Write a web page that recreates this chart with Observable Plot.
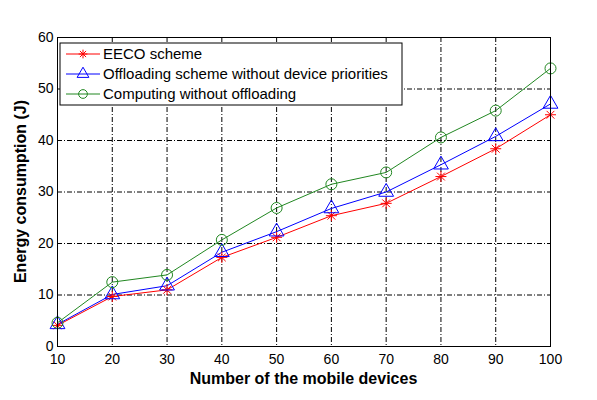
<!DOCTYPE html>
<html>
<head>
<meta charset="utf-8">
<script src="https://cdn.jsdelivr.net/npm/d3@7"></script>
<script src="https://cdn.jsdelivr.net/npm/@observablehq/plot@0.6"></script>
<style>
  body { margin: 0; background: #fff; }
  #chart svg { display: block; }
</style>
</head>
<body>
<div id="chart"></div>
<script>
// values
const devices = [10, 20, 30, 40, 50, 60, 70, 80, 90, 100];
const eeco = [4.1, 9.7, 11.0, 17.3, 21.2, 25.4, 27.8, 33.0, 38.4, 45.0];
const noPriority = [4.3, 10.1, 11.8, 18.3, 22.3, 26.8, 30.0, 35.3, 40.8, 47.1];
const noOffload = [4.6, 12.5, 13.9, 20.7, 26.9, 31.5, 33.8, 40.6, 45.8, 54.0];
const seriesNames = ["EECO scheme", "Offloading scheme without device priorities", "Computing without offloading"];
const seriesColors = ["#ff0000", "#0000ff", "#218721"];
const xTicks = [10, 20, 30, 40, 50, 60, 70, 80, 90, 100];
const yTicks = [0, 10, 20, 30, 40, 50, 60];

const rows = [];
[eeco, noPriority, noOffload].forEach((vals, s) => {
  vals.forEach((v, i) => rows.push({ n: devices[i], e: v, series: seriesNames[s] }));
});

// matlab-style '*' marker: a plus and a cross
const star = {
  draw(ctx, size) {
    const r = Math.sqrt(size / Math.PI), d = r * 0.7071;
    ctx.moveTo(-r, 0); ctx.lineTo(r, 0);
    ctx.moveTo(0, -r); ctx.lineTo(0, r);
    ctx.moveTo(-d, -d); ctx.lineTo(d, d);
    ctx.moveTo(-d, d); ctx.lineTo(d, -d);
  }
};
const seriesSymbols = [star, d3.symbolTriangle, d3.symbolCircle];

const dash = "5,2,1,2";
const font = "'Liberation Sans', Arial, sans-serif";

const plot = Plot.plot({
  width: 597, height: 400,
  marginLeft: 57, marginRight: 47, marginTop: 37, marginBottom: 54,
  style: { fontFamily: font, fontSize: "14px", background: "#fff" },
  x: { domain: [10, 100], ticks: xTicks, label: null },
  y: { domain: [0, 60], ticks: yTicks, label: null },
  color: { domain: seriesNames, range: seriesColors },
  symbol: { domain: seriesNames, range: seriesSymbols },
  marks: [
    Plot.ruleX(xTicks.slice(1, -1), { stroke: "#000", strokeDasharray: dash, strokeWidth: 1 }),
    Plot.ruleY(yTicks.slice(1, -1), { stroke: "#000", strokeDasharray: dash, strokeWidth: 1 }),
    Plot.axisX({ ticks: xTicks, tickSize: 0, tickPadding: 8, fontSize: 14, tickFormat: d => d }),
    Plot.axisY({ ticks: yTicks, tickSize: 0, tickPadding: 4, fontSize: 14 }),
    Plot.line(rows, { x: "n", y: "e", z: "series", stroke: "series", strokeWidth: 1 }),
    Plot.dot(rows, { x: "n", y: "e", stroke: "series", symbol: "series", r: 5.5, strokeWidth: 1, fill: "none" }),
    Plot.frame({ stroke: "#000", strokeWidth: 1 })
  ]
});

const svg = d3.select(plot);
// axis titles
svg.append("text")
  .attr("x", 57 + (550 - 57) / 2).attr("y", 384)
  .attr("text-anchor", "middle")
  .style("font-family", font).style("font-size", "16px").style("font-weight", "bold")
  .text("Number of the mobile devices");
svg.append("text")
  .attr("transform", `translate(26,${37 + (346 - 37) / 2}) rotate(-90)`)
  .attr("text-anchor", "middle")
  .style("font-family", font).style("font-size", "16px").style("font-weight", "bold")
  .text("Energy consumption (J)");

// legend box
const lg = svg.append("g").attr("transform", "translate(60,43)");
lg.append("rect").attr("width", 342).attr("height", 62)
  .attr("fill", "#fff").attr("stroke", "#000").attr("stroke-width", 1);
const symGen = d3.symbol().size(60);
seriesNames.forEach((name, i) => {
  const y = 11 + i * 20;
  lg.append("line").attr("x1", 6).attr("x2", 40).attr("y1", y).attr("y2", y)
    .attr("stroke", seriesColors[i]).attr("stroke-width", 1);
  lg.append("path").attr("d", symGen.type(seriesSymbols[i])())
    .attr("transform", `translate(23,${y})`)
    .attr("fill", "none").attr("stroke", seriesColors[i]).attr("stroke-width", 1);
  lg.append("text").attr("x", 43).attr("y", y).attr("dy", "0.35em")
    .attr("text-anchor", "start")
    .style("font-family", font).style("font-size", "15px")
    .text(name);
});

document.getElementById("chart").appendChild(plot);
</script>
</body>
</html>
